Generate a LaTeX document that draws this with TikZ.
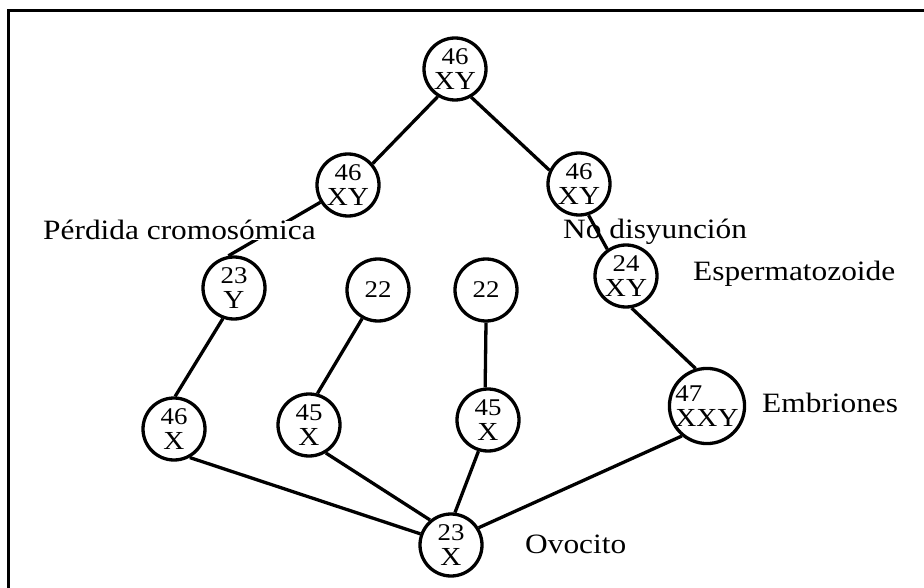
\documentclass[tikz,border=0pt]{standalone}
\usepackage{fontspec}
\setmainfont{Liberation Serif}[FakeStretch=1.12]
\newcommand\cnum[1]{{\fontsize{24}{24}\selectfont #1}}
\begin{document}
\begin{tikzpicture}[x=1pt,y=-1pt,
 cell/.style={draw, circle, line width=3.3pt, minimum size=62pt, inner sep=0pt, align=center, font=\fontsize{26}{25}\selectfont},
 conn/.style={line width=3.3pt},
 lab/.style={font=\fontsize{28}{28}\selectfont, anchor=base west, inner sep=0pt}]
\useasboundingbox (0,0) rectangle (924,588);
\draw[line width=3pt] (8,588) -- (8,11) -- (924,11);
\node[cell] (top) at (455,69) {\cnum{46}\\XY};
\node[cell] (l1) at (348,185) {\cnum{46}\\XY};
\node[cell] (r1) at (579,184) {\cnum{46}\\XY};
\node[cell] (y23) at (234,288) {\cnum{23}\\Y};
\node[cell] (a22) at (378,290) {\cnum{22}};
\node[cell] (b22) at (486,290) {\cnum{22}};
\node[cell] (xy24) at (626,276) {\cnum{24}\\XY};
\node[cell] (x46) at (174,429) {\cnum{46}\\X};
\node[cell] (x45a) at (309,425) {\cnum{45}\\X};
\node[cell] (x45b) at (488,420) {\cnum{45}\\X};
\node[cell, minimum size=68pt, align=left] (xxy) at (707,406) {\cnum{47}\\XXY};
\node[cell] (ov) at (451,545) {\cnum{23}\\X};
\draw[conn] (top.238) -- (l1.41);
\draw[conn] (top.300) -- (r1.155);
\draw[conn] (l1.212) -- (y23.100);
\draw[conn] (r1.287) -- (xy24.125);
\draw[conn] (y23.250) -- (x46.88);
\draw[conn] (a22.241) -- (x45a.75);
\draw[conn] (b22.270) -- (x45b.95);
\draw[conn] (xy24.280) -- (xxy.107);
\draw[conn] (x46.299) -- (ov.160);
\draw[conn] (x45a.301) -- (ov.130);
\draw[conn] (x45b.253) -- (ov.83);
\draw[conn] (xxy.230) -- (ov.32);
\node[lab, fill=white] (pc) at (43,240) {Pérdida cromosómica};
\node[lab] (nd) at (563,239) {No disyunción};
\node[lab] (esp) at (693,280) {Espermatozoide};
\node[lab] (emb) at (762,412) {Embriones};
\node[lab] (ovo) at (525,553) {Ovocito};
\end{tikzpicture}
\end{document}
